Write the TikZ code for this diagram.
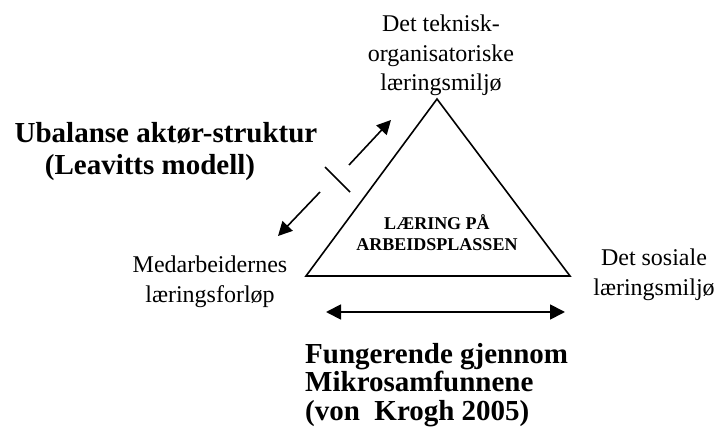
\documentclass[tikz,border=0pt]{standalone}
\usepackage{fontspec}
\setmainfont{Liberation Serif}
\usetikzlibrary{arrows.meta}
\begin{document}
\begin{tikzpicture}[x=1pt,y=-1pt,
  lbl/.style={inner sep=0pt,align=center,font=\fontsize{24}{29.5}\selectfont},
  ttl/.style={inner sep=0pt,font=\bfseries\fontsize{29}{30}\selectfont},
  ctr/.style={inner sep=0pt,align=center,font=\bfseries\fontsize{18}{21}\selectfont},
  edge/.style={line width=1.6pt},
  arr/.style={line width=1.6pt,-{Triangle[length=14pt,width=14pt]}},
  dbl/.style={line width=1.8pt,{Triangle[length=15pt,width=15pt]}-{Triangle[length=15pt,width=15pt]}}]
\useasboundingbox (0,0) rectangle (716,433);
% triangle
\coordinate (top) at (437,99);
\coordinate (bl) at (306,276);
\coordinate (br) at (570,276);
\draw[edge,line join=miter] (top) -- (bl) -- (br) -- cycle;
% labels
\node[lbl,anchor=base] (tlbl) at (441,91) {Det teknisk-\\organisatoriske\\læringsmiljø};
\node[lbl,anchor=base] (llbl) at (210,302) {Medarbeidernes\\læringsforløp};
\node[lbl,anchor=base] (rlbl) at (654,295) {Det sosiale\\læringsmiljø};
\node[ctr,anchor=base] (mid) at (437,251) {LÆRING PÅ\\ARBEIDSPLASSEN};
% titles
\node[ttl,anchor=base] (t1) at (166,143) {Ubalanse aktør-struktur};
\node[ttl,anchor=base] (t2) at (150,175) {(Leavitts modell)};
\node[ttl,anchor=base west,align=left,font=\bfseries\fontsize{29}{28.5}\selectfont] (bt) at (305,420) {Fungerende gjennom\\Mikrosamfunnene\\(von~~Krogh 2005)};
% arrows
\coordinate (a1s) at (349,165);
\coordinate (a1e) at (391,120);
\coordinate (a2s) at (320,192);
\coordinate (a2e) at (278,236);
\coordinate (s1) at (325,167);
\coordinate (s2) at (350,192);
\draw[arr] (a1s) -- (a1e);
\draw[arr] (a2s) -- (a2e);
\draw[edge] (s1) -- (s2);
\coordinate (h1) at (326,312);
\coordinate (h2) at (565,312);
\draw[dbl] (h1) -- (h2);
\end{tikzpicture}
\end{document}
